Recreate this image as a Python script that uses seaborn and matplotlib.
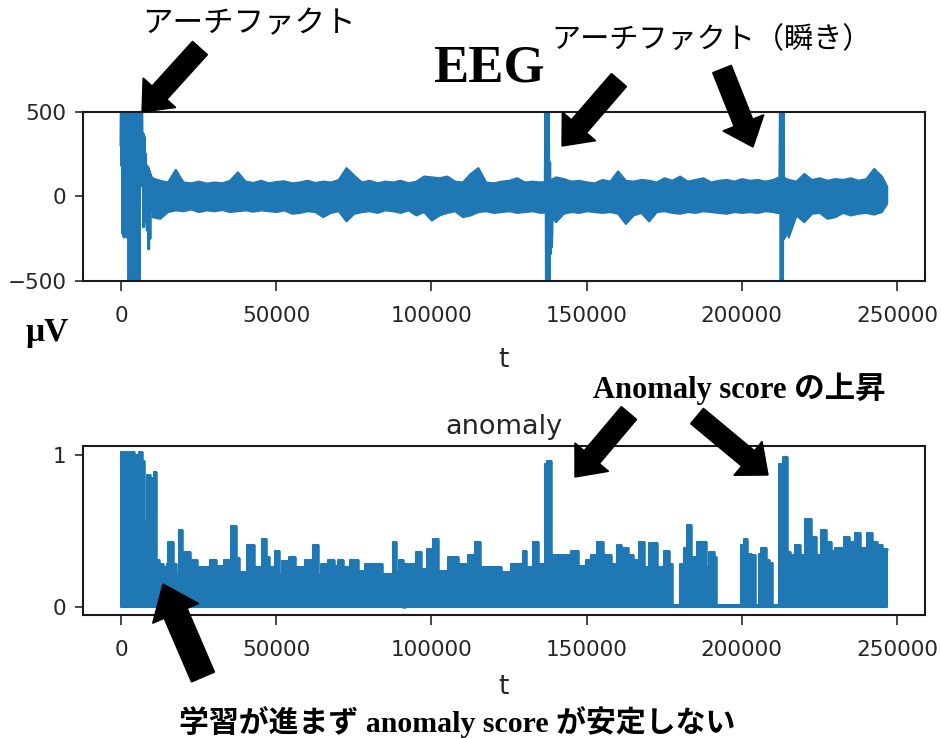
import numpy as np
import matplotlib
matplotlib.use("Agg")
import matplotlib.pyplot as plt
from matplotlib.patches import FancyArrow
import seaborn as sns

# ---------------- data ----------------
# EEG band envelope (µV), sampled every 2500 samples from t=10000
eeg_band_t = list(range(10000, 245001, 2500)) + [246700]
eeg_upper = [110, 95, 85, 160, 85, 80, 90, 78, 85, 80,
             95, 145, 90, 82, 95, 80, 88, 92, 80, 85,
             95, 82, 90, 85, 100, 170, 125, 85, 95, 80,
             90, 85, 95, 80, 90, 120, 115, 110, 120, 90,
             85, 135, 170, 85, 80, 90, 95, 110, 85, 90,
             85, 90, 115, 105, 90, 95, 85, 80, 100, 90,
             150, 95, 90, 100, 95, 85, 110, 95, 120, 90,
             100, 110, 85, 95, 100, 90, 105, 95, 100, 90,
             100, 120, 100, 90, 135, 100, 110, 95, 105, 100,
             110, 95, 105, 165, 120, 60]
eeg_lower = [-120, -130, -90, -80, -85, -75, -90, -80, -85, -78,
             -90, -85, -80, -88, -80, -85, -90, -80, -100, -95,
             -85, -90, -120, -95, -85, -145, -100, -90, -85, -95,
             -80, -85, -95, -80, -110, -90, -140, -110, -95, -85,
             -120, -110, -90, -85, -95, -90, -85, -95, -90, -85,
             -95, -90, -150, -100, -90, -95, -85, -90, -95, -90,
             -100, -160, -110, -95, -145, -90, -85, -95, -100, -90,
             -95, -85, -90, -95, -100, -90, -95, -90, -95, -85,
             -90, -100, -240, -110, -150, -100, -95, -130, -120, -95,
             -110, -100, -95, -105, -90, -40]

# start-of-recording artifact (t, µV)
art_t = [0, 150, 300, 450, 600, 800, 1000, 1200, 1400, 1600, 1800, 2000, 2200,
         2400, 2600, 2800, 3000, 3200, 3400, 3600, 3800, 4000, 4200, 4400, 4600,
         4800, 5000, 5200, 5400, 5600, 5800, 6000, 6300, 6600, 6900, 7100, 7300,
         7500, 7700, 7900, 8100, 8300, 8500, 8700, 8900, 9100, 9300, 9500, 9700, 10000]
art_v = [300, 700, 180, 700, -220, 700, -240, 700, -230, 700, -240, 700, -230,
         700, -700, 700, -700, 700, -700, 700, -700, 700, -700, 700, -700,
         700, -700, 700, -700, 700, -700, 700, 60, 700, 100, 370, -180,
         350, -150, 250, -120, 180, -200, 170, -310, 150, -250, 130, -80, 110]

# blink artifacts
blink1_t = [136700, 136900, 137100, 137300, 137500, 137700, 137900, 138100,
            138300, 138500, 138700, 138900]
blink1_v = [60, 700, -700, 700, -700, 700, -700, 200, -340, 80, -300, -140]
blink2_t = [212300, 212500, 212700, 212900, 213100, 213300, 213500, 213700,
            213900, 214100, 214300]
blink2_v = [120, 700, -700, 700, -700, 700, -250, 60, -240, 50, -200]

# anomaly score envelope (step-post)
anom_t = [0, 2300, 2900, 4100, 4700, 5600, 5900, 6800, 7300, 7900, 8500, 9300,
          9900, 10500, 11200, 12200, 13500, 14700, 15000, 16600, 17700, 18600,
          19500, 20400, 22200, 24500, 25200, 28600, 30500, 33200, 35600, 37000,
          38000, 40500, 43000, 45300, 46600, 47700, 49600, 50900, 52000, 54000,
          56000, 59200, 61800, 63500, 64500, 66700, 68500, 70000, 71600, 73800,
          76400, 78600, 80500, 83000, 84000, 87600, 88700, 89700, 90900, 91400,
          92000, 95200, 96800, 98500, 100500, 102000, 105300, 108500, 111800,
          114000, 115600, 119400, 122500, 125800, 129400, 130600, 132700, 134300,
          136500, 137300, 138600, 140700, 144900, 147200, 149800, 151400, 153400,
          155200, 157800, 159800, 161100, 163300, 165000, 167000, 168600, 170200,
          172800, 175000, 176600, 177500, 180000, 181300, 182500, 183600, 185700,
          188400, 189400, 191000, 191800, 199700, 200600, 201800, 203000, 204200,
          205600, 206300, 207700, 208800, 209800, 212000, 213200, 214500, 215700,
          217300, 218900, 220500, 222200, 223800, 225400, 227000, 228600, 230200,
          232900, 234500, 236600, 238200, 240400, 242000, 243600, 245200, 246700]
anom_v = [1.02, 0.99, 1.02, 0.98, 1.0, 0.98, 1.02, 0.96, 0.52, 0.56, 0.87, 0.85,
          0.28, 0.89, 0.31, 0.28, 0.26, 0.28, 0.43, 0.28, 0.22, 0.51,
          0.30, 0.36, 0.31, 0.22, 0.26, 0.31, 0.27, 0.31, 0.53, 0.32,
          0.23, 0.41, 0.26, 0.45, 0.33, 0.26, 0.37, 0.22, 0.30, 0.33,
          0.26, 0.31, 0.41, 0.21, 0.28, 0.31, 0.27, 0.31, 0.26, 0.31,
          0.24, 0.28, 0.28, 0.28, 0.22, 0.43, 0.24, 0.31, 0.0, 0.28,
          0.28, 0.36, 0.25, 0.38, 0.45, 0.24, 0.33, 0.28, 0.34,
          0.43, 0.26, 0.26, 0.23, 0.28, 0.37, 0.26, 0.43, 0.28,
          0.94, 0.96, 0.34, 0.34, 0.37, 0.27, 0.31, 0.34, 0.43,
          0.34, 0.28, 0.41, 0.39, 0.34, 0.31, 0.43, 0.26, 0.42,
          0.26, 0.37, 0.28, 0.012, 0.28, 0.39, 0.54, 0.33, 0.43,
          0.26, 0.36, 0.33, 0.012, 0.41, 0.45, 0.35, 0.34, 0.012,
          0.35, 0.39, 0.31, 0.29, 0.012, 0.94, 0.99, 0.36, 0.34,
          0.41, 0.34, 0.58, 0.46, 0.34, 0.51, 0.43, 0.37, 0.39,
          0.46, 0.43, 0.49, 0.39, 0.49, 0.43, 0.41, 0.38, 0.38]

x_ticks = [0, 50000, 100000, 150000, 200000, 250000]
x_ticklabels = ["0", "50000", "100000", "150000", "200000", "250000"]
eeg_yticks = [-500, 0, 500]
eeg_yticklabels = ["\u2212500", "0", "500"]
anom_yticks = [0, 1]
anom_yticklabels = ["0", "1"]

# ---------------- style ----------------
sns.set_style("ticks")
plt.rcParams["font.family"] = ["DejaVu Sans"]
BLUE = "#1f77b4"
W, H = 941, 738

fig = plt.figure(figsize=(W / 100, H / 100), dpi=100)
L, R = 82.7, 925
ax1 = fig.add_axes([L / W, 1 - 281 / H, (R - L) / W, (281 - 111.7) / H])
ax2 = fig.add_axes([L / W, 1 - 615 / H, (R - L) / W, (615 - 446) / H])

# EEG
ax1.fill_between(eeg_band_t, eeg_lower, eeg_upper, color=BLUE, lw=1.5, edgecolor=BLUE)
sns.lineplot(x=art_t, y=art_v, ax=ax1, sort=False, estimator=None, color=BLUE, lw=2.2)
sns.lineplot(x=blink1_t, y=blink1_v, ax=ax1, sort=False, estimator=None, color=BLUE, lw=2.2)
sns.lineplot(x=blink2_t, y=blink2_v, ax=ax1, sort=False, estimator=None, color=BLUE, lw=2.2)
ax1.set_ylim(-500, 500)

# anomaly
ax2.fill_between(anom_t, 0, anom_v, step="post", color=BLUE, lw=1.5, edgecolor=BLUE)
sns.lineplot(x=anom_t, y=anom_v, ax=ax2, sort=False, estimator=None, color=BLUE,
             lw=1.8, drawstyle="steps-post")
ax2.set_ylim(-0.053, 1.06)

for ax, lp in ((ax1, 15), (ax2, 10)):
    ax.set_xlim(-12335, 259035)
    ax.set_xticks(x_ticks)
    ax.set_xticklabels(x_ticklabels)
    ax.tick_params(axis="x", length=7, width=1.2, pad=11, labelsize=15.5, colors="0.15")
    ax.tick_params(axis="y", length=5.5, width=1.2, pad=6, labelsize=15.5, colors="0.15")
    for s in ax.spines.values():
        s.set_visible(True)
        s.set_linewidth(1.5)
        s.set_color("0.1")
    ax.set_xlabel("t", fontsize=19, color="0.15", labelpad=lp)
    ax.set_ylabel("")

ax1.set_yticks(eeg_yticks)
ax1.set_yticklabels(eeg_yticklabels)
ax2.set_yticks(anom_yticks)
ax2.set_yticklabels(anom_yticklabels)
ax2.set_title("anomaly", fontsize=19.5, color="0.15", pad=9)

# ---------------- annotations ----------------
def px(x, y):
    return x / 100, (H - y) / 100

def ftext(x, y, s, **kw):
    X, Y = px(x, y)
    fig.text(X, Y, s, transform=fig.dpi_scale_trans, ha="center", va="center", **kw)

JP = ["Noto Sans CJK JP", "DejaVu Sans"]
MIX = ["Liberation Serif", "Noto Sans CJK JP", "DejaVu Serif"]
ftext(249, 24, "アーチファクト", family=JP, fontsize=22, color="black")
ftext(712, 40, "アーチファクト（瞬き）", family=JP, fontsize=21, color="black")
ftext(489, 68, "EEG", family=["Liberation Serif", "DejaVu Serif"], fontsize=38,
      fontweight="bold", color="black")
ftext(47, 333, "μV", family=["Liberation Serif", "DejaVu Serif"], fontsize=24,
      fontweight="bold", color="black")
ftext(739, 389, "Anomaly score の上昇", family=MIX, fontsize=22, fontweight="bold",
      color="black")
ftext(457, 722, "学習が進まず anomaly score が安定しない", family=MIX, fontsize=21.5,
      fontweight="bold", color="black")

def arrow(tail, tip, w=20, hw=44, hl=26):
    x0, y0 = px(*tail)
    x1, y1 = px(*tip)
    a = FancyArrow(x0, y0, x1 - x0, y1 - y0, width=w / 100, head_width=hw / 100,
                   head_length=hl / 100, length_includes_head=True, color="black",
                   transform=fig.dpi_scale_trans)
    fig.add_artist(a)

arrow((200, 48), (142, 112))
arrow((619, 80), (562, 146))
arrow((722, 69), (753, 147))
arrow((629, 413), (575, 477))
arrow((697, 416), (768, 475))
arrow((203, 677), (163, 584), w=25, hw=50, hl=32)

fig.savefig("out.png", dpi=100)
